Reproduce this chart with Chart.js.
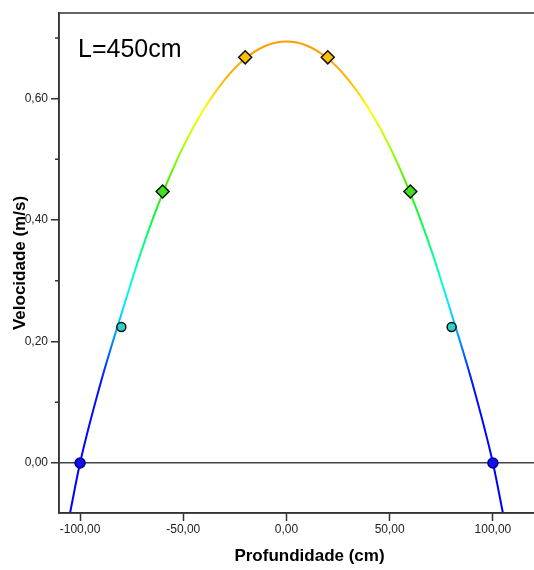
<!DOCTYPE html>
<html>
<head>
<meta charset="utf-8">
<script src="https://cdn.jsdelivr.net/npm/chart.js@4.4.0/dist/chart.umd.min.js"></script>
<style>
html, body { margin: 0; padding: 0; background: #fff; overflow: hidden; }
#wrap { width: 568px; height: 570px; }
</style>
</head>
<body>
<div id="wrap"><canvas id="perfil"></canvas></div>
<script>
// measured points (depth in cm, speed in m/s)
var depth = [-100, -80, -60, -20, 20, 60, 80, 100];
var speed = [0.000, 0.224, 0.447, 0.668, 0.668, 0.447, 0.224, 0.000];

// fitted curve
var fitDepth = [-105, -100, -90, -80, -70, -60, -50, -40, -30, -20, -10, 0, 10, 20, 30, 40, 50, 60, 70, 80, 90, 100, 105];
var fitSpeed = [-0.085, 0.000, 0.132, 0.245, 0.352, 0.444, 0.521, 0.583, 0.631, 0.666, 0.687, 0.694, 0.687, 0.666, 0.631, 0.583, 0.521, 0.444, 0.352, 0.245, 0.132, 0.000, -0.085];

var xTicks = [-100, -50, 0, 50, 100];
var yTicks = [0, 0.2, 0.4, 0.6];
var yMinor = [0.1, 0.3, 0.5, 0.7];
var label = "L=450cm";

var FONT = '"Liberation Sans", Arial, sans-serif';

function fmt(v) {
    return Number(v).toFixed(2).replace('.', ',');
}

// colour by height of the curve: blue at the bottom, orange at the top
function curveColor(context) {
    var chart = context.chart;
    if (!chart.chartArea) return '#0000ff';
    var y = chart.scales.y;
    var g = chart.ctx.createLinearGradient(0, y.getPixelForValue(0), 0, y.getPixelForValue(0.7));
    g.addColorStop(0.00, '#0000ff');
    g.addColorStop(0.19, '#0010ff');
    g.addColorStop(0.29, '#0090ff');
    g.addColorStop(0.37, '#00e8ff');
    g.addColorStop(0.43, '#00ffd0');
    g.addColorStop(0.54, '#00ff60');
    g.addColorStop(0.64, '#30f000');
    g.addColorStop(0.74, '#a0ff00');
    g.addColorStop(0.83, '#ffff00');
    g.addColorStop(0.91, '#ffb000');
    g.addColorStop(1.00, '#ff9900');
    return g;
}

var extras = {
    id: 'extras',
    afterDraw: function (chart) {
        var ctx = chart.ctx, a = chart.chartArea, y = chart.scales.y;
        ctx.save();
        ctx.strokeStyle = '#333';
        ctx.lineWidth = 1.5;
        ctx.strokeRect(a.left, a.top, a.right - a.left, a.bottom - a.top);
        // short ticks between the labelled ones
        ctx.beginPath();
        yMinor.forEach(function (v) {
            var p = y.getPixelForValue(v);
            ctx.moveTo(a.left - 4, p);
            ctx.lineTo(a.left, p);
        });
        ctx.stroke();
        ctx.fillStyle = '#000';
        ctx.font = '25px ' + FONT;
        ctx.textBaseline = 'alphabetic';
        ctx.fillText(label, a.left + 19, a.top + 44);
        ctx.restore();
    }
};

var points = depth.map(function (d, i) { return { x: d, y: speed[i] }; });
var curve = fitDepth.map(function (d, i) { return { x: d, y: fitSpeed[i] }; });

new Chart(document.getElementById('perfil').getContext('2d'), {
    type: 'scatter',
    data: {
        datasets: [
            {
                label: 'medidos',
                data: points,
                order: 0,
                pointStyle: ['circle', 'circle', 'rectRot', 'rectRot', 'rectRot', 'rectRot', 'circle', 'circle'],
                pointRadius: [5, 4.5, 6.5, 6.5, 6.5, 6.5, 4.5, 5],
                pointBackgroundColor: ['#1010e8', '#30d0c8', '#40e020', '#ffc000', '#ffc000', '#40e020', '#30d0c8', '#1010e8'],
                pointBorderColor: ['#000090', '#111', '#111', '#111', '#111', '#111', '#111', '#000090'],
                pointBorderWidth: 1.5
            },
            {
                label: 'ajuste',
                data: curve,
                order: 1,
                showLine: true,
                pointRadius: 0,
                borderWidth: 2,
                borderColor: curveColor,
                cubicInterpolationMode: 'monotone'
            }
        ]
    },
    options: {
        responsive: true,
        maintainAspectRatio: false,
        animation: false,
        layout: { padding: { top: 13, right: 2, left: 0, bottom: 0 } },
        plugins: {
            legend: { display: false },
            tooltip: { enabled: false }
        },
        scales: {
            x: {
                type: 'linear',
                min: -110.2,
                max: 132.5,
                afterBuildTicks: function (s) { s.ticks = xTicks.map(function (v) { return { value: v }; }); },
                afterFit: function (s) { s.height = 57; },
                ticks: {
                    callback: fmt,
                    color: '#222',
                    font: { family: FONT, size: 12 },
                    padding: 1,
                    maxRotation: 0,
                    autoSkip: false
                },
                grid: { drawOnChartArea: false, tickLength: 8, tickColor: '#333', tickWidth: 1.5 },
                border: { color: '#333', width: 1.5 },
                title: {
                    display: true,
                    text: 'Profundidade (cm)',
                    color: '#000',
                    font: { family: FONT, size: 17, weight: 'bold' },
                    padding: { top: 0, bottom: 3 }
                }
            },
            y: {
                type: 'linear',
                min: -0.0824,
                max: 0.741,
                afterBuildTicks: function (s) { s.ticks = yTicks.map(function (v) { return { value: v }; }); },
                afterFit: function (s) { s.width = 59; },
                ticks: {
                    callback: fmt,
                    color: '#222',
                    font: { family: FONT, size: 12 },
                    padding: 3
                },
                grid: {
                    color: function (c) { return c.tick && c.tick.value === 0 ? '#444' : 'rgba(0,0,0,0)'; },
                    lineWidth: 1.5,
                    tickLength: 8,
                    tickColor: '#333',
                    tickWidth: 1.5
                },
                border: { color: '#333', width: 1.5 },
                title: {
                    display: true,
                    text: 'Velocidade (m/s)',
                    color: '#000',
                    font: { family: FONT, size: 17, weight: 'bold' },
                    padding: { top: 10, bottom: 0 }
                }
            }
        }
    },
    plugins: [extras]
});
</script>
</body>
</html>
